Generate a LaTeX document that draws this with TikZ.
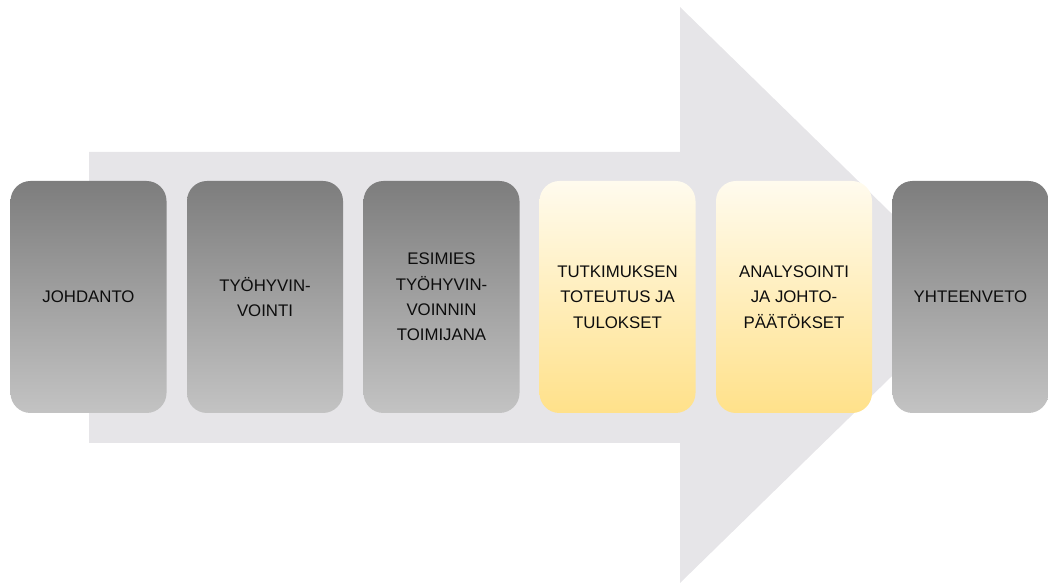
\documentclass[tikz,border=0pt]{standalone}
\usepackage{fontspec}
\setmainfont{Liberation Sans}
\definecolor{arrowgray}{HTML}{E6E5E8}
\definecolor{greytop}{HTML}{7D7D7D}
\definecolor{greybottom}{HTML}{C3C3C3}
\definecolor{yellowtop}{HTML}{FFFBEE}
\definecolor{yellowbottom}{HTML}{FFE18A}
\tikzset{
  phase/.style={rounded corners=15pt, minimum width=117pt, minimum height=174pt,
    inner sep=2pt, align=center, text=black!95,
    font=\fontsize{12.6}{19}\selectfont},
  greyphase/.style={phase, top color=greytop, bottom color=greybottom},
  yellowphase/.style={phase, top color=yellowtop, bottom color=yellowbottom}
}
\begin{document}
\begin{tikzpicture}[x=0.75pt, y=0.75pt]
  \useasboundingbox (0,0) rectangle (1048,584);
  % big background arrow
  \fill[arrowgray] (89,432) -- (680,432) -- (680,577) -- (975,289)
                   -- (680,1) -- (680,141) -- (89,141) -- cycle;

  \node[greyphase]   (johdanto)  at (88.5,287)  {JOHDANTO};
  \node[greyphase]   (tyohyv)    at (265,287)   {TYÖHYVIN-\\VOINTI};
  \node[greyphase]   (esimies)   at (441.5,287) {ESIMIES\\TYÖHYVIN-\\VOINNIN\\TOIMIJANA};
  \node[yellowphase] (tutkimus)  at (617.5,287) {TUTKIMUKSEN\\TOTEUTUS JA\\TULOKSET};
  \node[yellowphase] (analyysi)  at (794,287)   {ANALYSOINTI\\JA JOHTO-\\PÄÄTÖKSET};
  \node[greyphase]   (yhteenveto) at (970.5,287) {YHTEENVETO};
\end{tikzpicture}
\end{document}
